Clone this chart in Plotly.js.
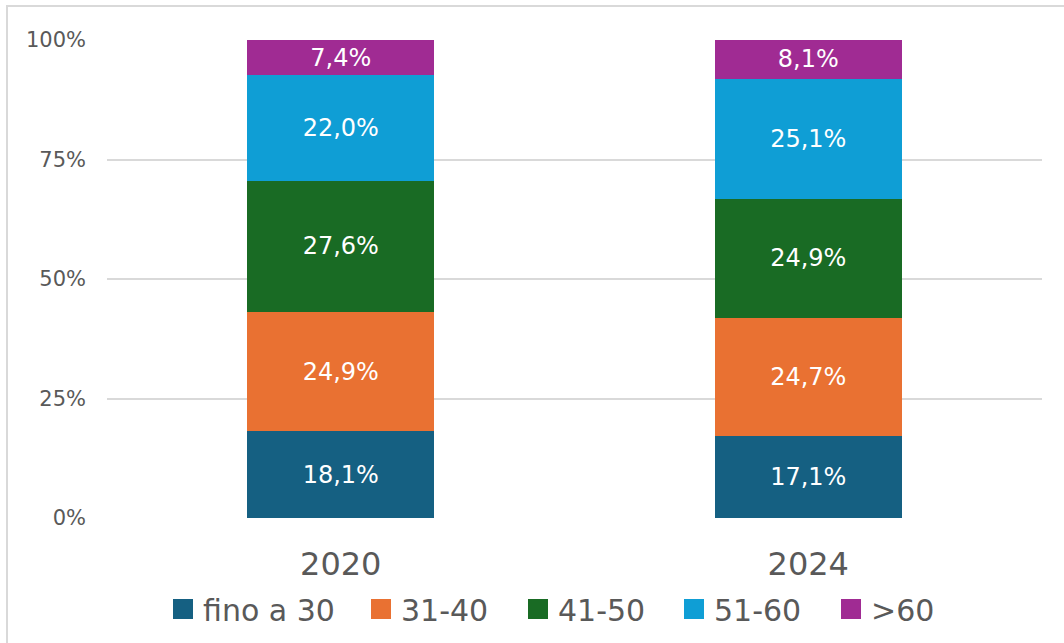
<!DOCTYPE html>
<html>
<head>
<meta charset="utf-8">
<script src="https://cdn.plot.ly/plotly-3.0.1.min.js"></script>
<style>
  html, body { margin: 0; padding: 0; background: #ffffff; overflow: hidden; }
  #chart { width: 1064px; height: 643px; position: relative; }
  #frame { position: absolute; left: 6px; top: 5px; width: 1100px; height: 700px;
           border: 2px solid #d9d9d9; pointer-events: none; box-sizing: border-box; }
</style>
</head>
<body>
<div id="chart"></div>
<div id="frame"></div>
<script>
const years = ["2020", "2024"];
const seriesNames = ["fino a 30", "31-40", "41-50", "51-60", ">60"];
const fino30 = [18.1, 17.1];
const s31_40 = [24.9, 24.7];
const s41_50 = [27.6, 24.9];
const s51_60 = [22.0, 25.1];
const over60 = [7.4, 8.1];
const seriesValues = [fino30, s31_40, s41_50, s51_60, over60];
const colors = ["#156082", "#E97132", "#196B24", "#0F9ED5", "#A02B93"];
const yTickVals = [0, 25, 50, 75, 100];
const yTickText = ["0%", "25%", "50%", "75%", "100%"];

const FONT = "'DejaVu Sans', Verdana, sans-serif";
const fmt = v => v.toFixed(1).replace(".", ",") + "%";

// legend swatch left edges (px) as seen in the reference
const legendLeftPx = [173, 371, 528, 684, 841];
const legendIds = ["legend", "legend2", "legend3", "legend4", "legend5"];

const barTraces = seriesNames.map((name, i) => ({
  type: "bar",
  name: name,
  x: years,
  y: seriesValues[i],
  text: seriesValues[i].map(fmt),
  textposition: "inside",
  insidetextanchor: "middle",
  textfont: { color: "#ffffff", size: 24, family: FONT },
  marker: { color: colors[i], line: { width: 0 } },
  showlegend: false,
  legendgroup: name,
  hoverinfo: "skip"
}));

const legendTraces = seriesNames.map((name, i) => ({
  type: "scatter",
  mode: "markers",
  name: name,
  x: [null],
  y: [null],
  marker: { symbol: "square", size: 16, color: colors[i], line: { width: 4, color: colors[i] } },
  legendgroup: name,
  legend: legendIds[i],
  showlegend: true,
  hoverinfo: "skip"
}));

const layout = {
  width: 1064,
  height: 643,
  barmode: "stack",
  barnorm: "percent",
  bargap: 0.6,
  margin: { l: 107, r: 22, t: 40, b: 125, autoexpand: false },
  paper_bgcolor: "#ffffff",
  plot_bgcolor: "#ffffff",
  font: { family: FONT, color: "#595959" },
  xaxis: {
    type: "category",
    showgrid: false,
    showline: false,
    zeroline: false,
    ticks: "",
    tickfont: { size: 32, color: "#595959" },
    ticklabelstandoff: 24
  },
  yaxis: {
    range: [0, 100],
    tickvals: yTickVals,
    ticktext: yTickText,
    showgrid: true,
    gridcolor: "#d9d9d9",
    gridwidth: 2,
    zeroline: false,
    showline: false,
    ticks: "",
    tickfont: { size: 21, color: "#595959" },
    ticklabelstandoff: 20
  },
  showlegend: true
};

legendIds.forEach((id, i) => {
  layout[id] = {
    orientation: "h",
    xref: "container",
    yref: "container",
    x: (legendLeftPx[i] - 10) / 1064,
    xanchor: "left",
    y: 1 - 609 / 643,
    yanchor: "middle",
    bgcolor: "rgba(0,0,0,0)",
    borderwidth: 0,
    font: { size: 30, color: "#595959", family: FONT },
    itemwidth: 30
  };
});

Plotly.newPlot("chart", barTraces.concat(legendTraces), layout, { displayModeBar: false, staticPlot: true });
</script>
</body>
</html>
